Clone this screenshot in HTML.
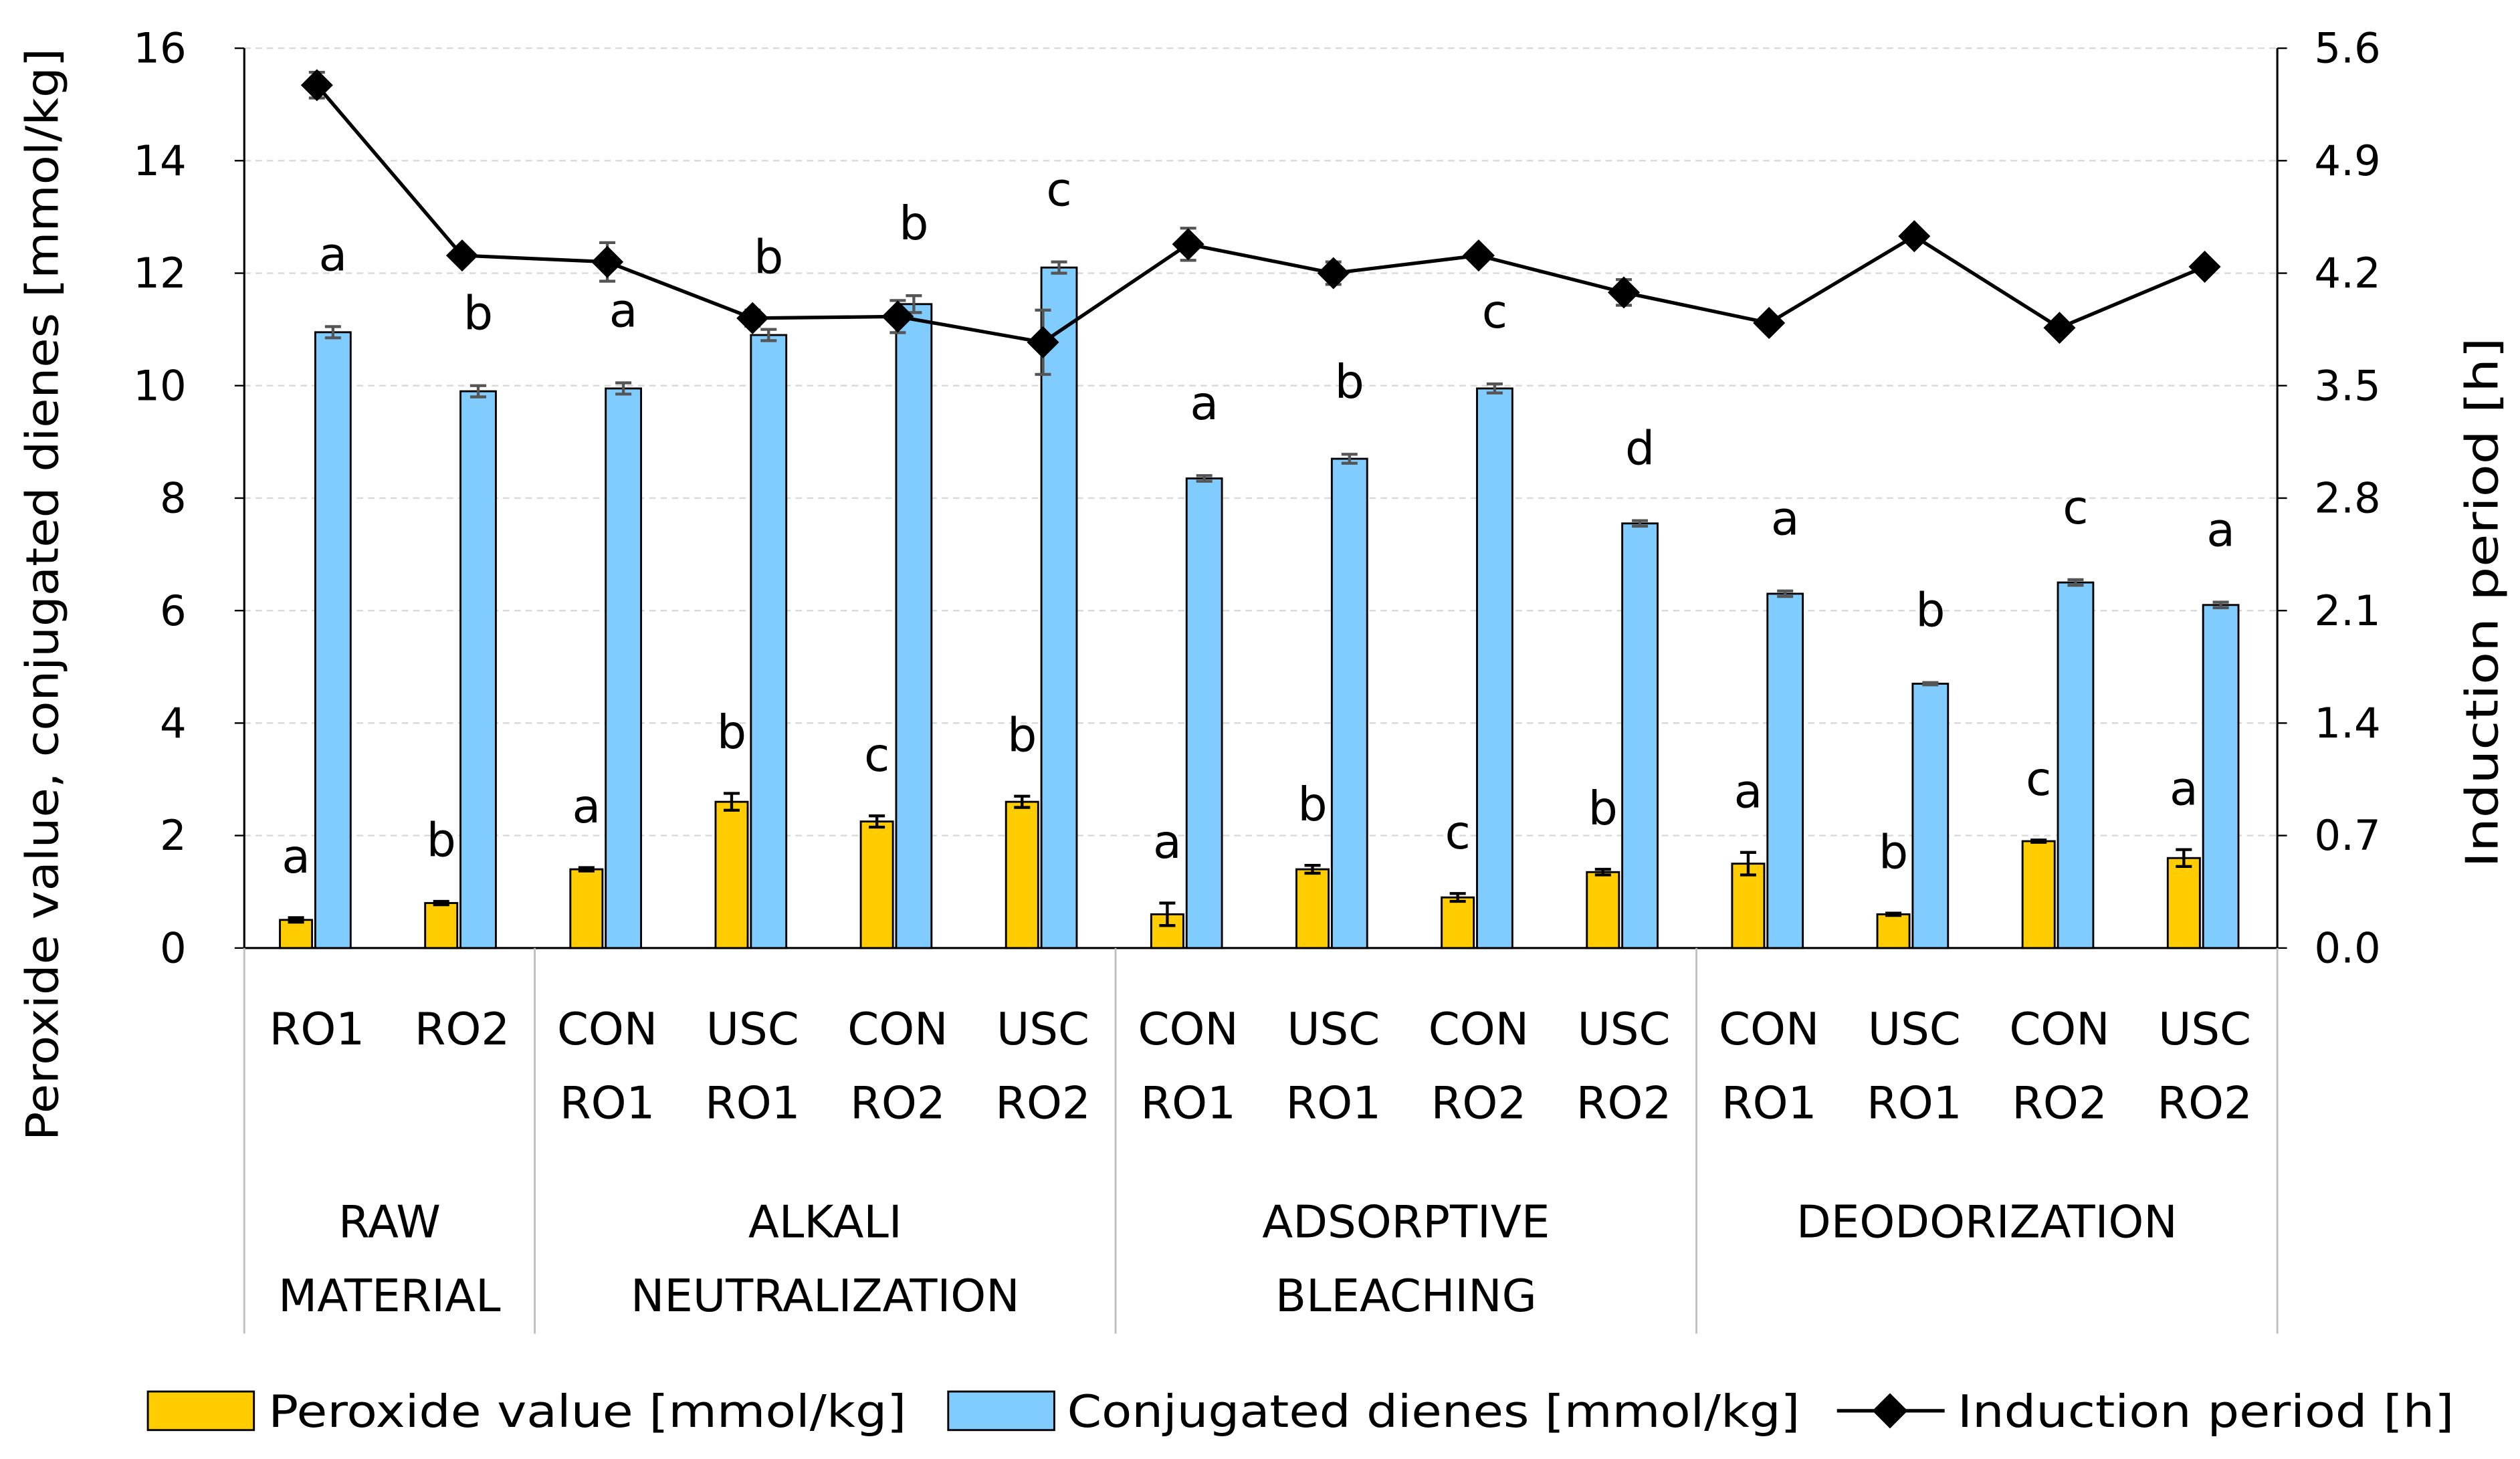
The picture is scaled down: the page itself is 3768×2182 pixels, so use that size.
<!DOCTYPE html>
<html><head><meta charset="utf-8"><style>
html,body{margin:0;padding:0;background:#fff}
svg{display:block}
text{font-family:"DejaVu Sans","Liberation Sans",sans-serif;fill:#000}
</style></head><body>
<svg id="chart" width="3768" height="2182" viewBox="0 0 1568 908" xmlns="http://www.w3.org/2000/svg"></svg>
<script>
const catTop = ["RO1","RO2","CON","USC","CON","USC","CON","USC","CON","USC","CON","USC","CON","USC"];
const catBottom = ["","","RO1","RO1","RO2","RO2","RO1","RO1","RO2","RO2","RO1","RO1","RO2","RO2"];
const groups = [["RAW","MATERIAL"],["ALKALI","NEUTRALIZATION"],["ADSORPTIVE","BLEACHING"],["DEODORIZATION"]];
const groupSpans = [[0,2],[2,6],[6,10],[10,14]];
const pv = [0.5,0.8,1.4,2.6,2.25,2.6,0.6,1.4,0.9,1.35,1.5,0.6,1.9,1.6];
const pvErr = [0.04,0.03,0.03,0.15,0.1,0.1,0.2,0.07,0.07,0.05,0.2,0.02,0.02,0.15];
const pvLetters = ["a","b","a","b","c","b","a","b","c","b","a","b","c","a"];
const cd = [10.95,9.9,9.95,10.9,11.45,12.1,8.35,8.7,9.95,7.55,6.3,4.7,6.5,6.1];
const cdErr = [0.1,0.1,0.1,0.1,0.15,0.1,0.05,0.08,0.08,0.05,0.05,0.02,0.05,0.05];
const cdLetters = ["a","b","a","b","b","c","a","b","c","d","a","b","c","a"];
const ip = [5.37,4.31,4.27,3.92,3.93,3.77,4.38,4.20,4.31,4.08,3.89,4.43,3.86,4.24];
const ipErr = [0.08,0.02,0.12,0.05,0.1,0.2,0.1,0.07,0.03,0.08,0,0,0,0.03];
const leftTicks = [0,2,4,6,8,10,12,14,16];
const rightTicks = ["0.0","0.7","1.4","2.1","2.8","3.5","4.2","4.9","5.6"];

const svg = document.getElementById('chart');
const NS = "http://www.w3.org/2000/svg";
const X0=152, X1=1417, Y0=590, Y1=30;
const bw = (X1-X0)/catTop.length;
const yL = v => Y0 - (v/16)*(Y0-Y1);
const yR = v => Y0 - (v/5.6)*(Y0-Y1);
const xc = i => X0 + bw*(i+0.5);
function el(tag, attrs, parent){const e=document.createElementNS(NS,tag);for(const k in attrs)e.setAttribute(k,attrs[k]);(parent||svg).appendChild(e);return e;}
function txt(s,x,y,size,anchor,parent,len){const t=el('text',{x:x,y:y,'font-size':size,'text-anchor':anchor||'middle'},parent);if(len){t.setAttribute('textLength',len);t.setAttribute('lengthAdjust','spacingAndGlyphs');}t.textContent=s;return t;}

leftTicks.forEach((v,i)=>{
  if(v>0){const g=el('line',{x1:X0,x2:X1,y1:yL(v),y2:yL(v),stroke:'#d9d9d9','stroke-width':1,'stroke-dasharray':'4,3'});
  
  }
  const t=txt(String(v),116,yL(v)+9,26,'end');
  
  
  const r=txt(rightTicks[i],1440,yL(v)+9,26,'start');
  
  
});
[[X0,Y1,X0,Y0],[X1,Y1,X1,Y0],[X0,Y0,X1,Y0]].forEach(a=>{const l=el('line',{x1:a[0],y1:a[1],x2:a[2],y2:a[3],stroke:'#000','stroke-width':1.3});
 
 });
for(let i=0;i<leftTicks.length;i++){
  el('line',{x1:X0-6,x2:X0,y1:yL(leftTicks[i]),y2:yL(leftTicks[i]),stroke:'#000'});
  el('line',{x1:X1,x2:X1+6,y1:yL(leftTicks[i]),y2:yL(leftTicks[i]),stroke:'#000'});
}
function errbar(x,yt,yb,color){
  const g=el('g',{stroke:color||'#555','stroke-width':1.8});
  el('line',{x1:x,x2:x,y1:yt,y2:yb},g);
  el('line',{x1:x-5,x2:x+5,y1:yt,y2:yt},g);
  el('line',{x1:x-5,x2:x+5,y1:yb,y2:yb},g);
  return g;
}
pv.forEach((v,i)=>{
  const c=xc(i);
  const b=el('rect',{x:c-23,y:yL(v),width:20,height:Y0-yL(v),fill:'#ffcc00',stroke:'#000','stroke-width':1.2});
  
  
  errbar(c-13,yL(v+pvErr[i]),yL(v-pvErr[i]),'#000');
  const t=txt(pvLetters[i],c-13,yL(v+pvErr[i])-28,29);
  
  
});
cd.forEach((v,i)=>{
  const c=xc(i);
  const b=el('rect',{x:c-1,y:yL(v),width:22,height:Y0-yL(v),fill:'#80ccff',stroke:'#000','stroke-width':1.2});
  
  
  errbar(c+10,yL(v+cdErr[i]),yL(v-cdErr[i]),'#555');
  const t=txt(cdLetters[i],c+10,yL(v+cdErr[i])-35,29);
  
  
});
const pts=ip.map((v,i)=>xc(i)+','+yR(v)).join(' ');
const pl=el('polyline',{points:pts,fill:'none',stroke:'#000','stroke-width':2.2});


ip.forEach((v,i)=>{
  if(ipErr[i]>0) errbar(xc(i),yR(v+ipErr[i]),yR(v-ipErr[i]),'#555');
  const x=xc(i),y=yR(v);
  const d=el('polygon',{points:`${x},${y-10} ${x+10},${y} ${x},${y+10} ${x-10},${y}`,fill:'#000'});
  
  
});
[0,2,6,10,14].forEach(k=>{const x=X0+bw*k;const l=el('line',{x1:x,x2:x,y1:Y0,y2:830,stroke:'#bfbfbf','stroke-width':1.2});
 
 });
catTop.forEach((s,i)=>{
  const t=txt(s,xc(i),650,28);
  
  
  if(catBottom[i]){const b=txt(catBottom[i],xc(i),696,28);
  
  }
});
groups.forEach((g,i)=>{
  const cx=X0+bw*(groupSpans[i][0]+groupSpans[i][1])/2;
  g.forEach((s,j)=>{const t=txt(s,cx,770+46*j,28);
  
  });
});
const lt=txt('Peroxide value, conjugated dienes [mmol/kg]',0,0,28,'middle',null,680);
lt.setAttribute('transform','translate(36,370) rotate(-90)');


const rt=txt('Induction period [h]',0,0,28,'middle',null,330);
rt.setAttribute('transform','translate(1554,375) rotate(-90)');


const lg=el('g',{});


const r1=el('rect',{x:92,y:866,width:66,height:24,fill:'#ffcc00',stroke:'#000','stroke-width':1.2},lg);


const l1=txt('Peroxide value [mmol/kg]',167,888,28,'start',lg,397);


const r2=el('rect',{x:590,y:866,width:66,height:24,fill:'#80ccff',stroke:'#000','stroke-width':1.2},lg);


const l2=txt('Conjugated dienes [mmol/kg]',664,888,28,'start',lg,456);


el('line',{x1:1143,x2:1210,y1:878,y2:878,stroke:'#000','stroke-width':2.2},lg);
el('polygon',{points:'1176,867 1187,878 1176,889 1165,878',fill:'#000'},lg);
const l3=txt('Induction period [h]',1218,888,28,'start',lg,309);


</script>
</body></html>
